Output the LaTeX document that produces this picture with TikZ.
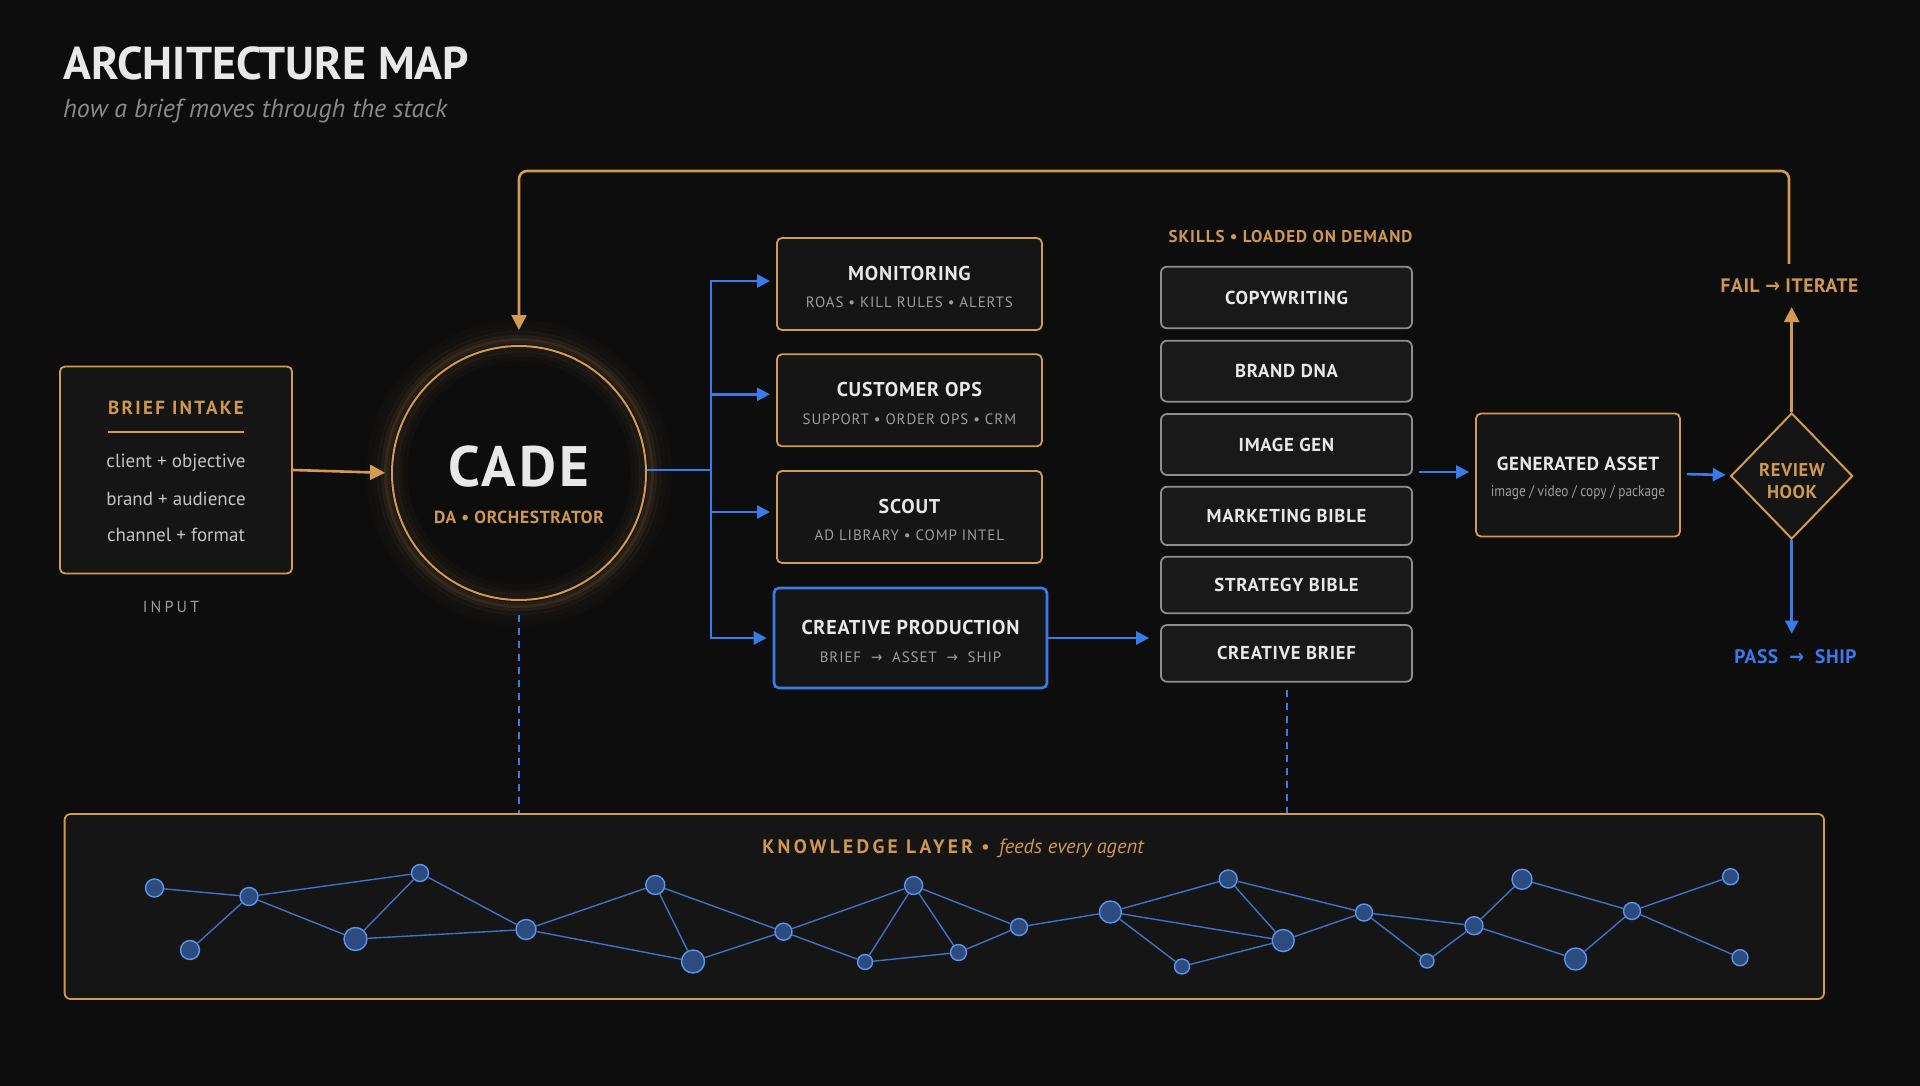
\documentclass[tikz,border=0pt]{standalone}
\usepackage{fontspec}
\setmainfont{PT Sans}
\newfontfamily\condfont{PT Sans}[FakeStretch=0.86]
\newfontfamily\arrowfont{DejaVu Sans}[FakeStretch=0.9]
\usetikzlibrary{arrows.meta,shapes.geometric,calc}
\definecolor{bg}{HTML}{0D0D0E}
\definecolor{gold}{HTML}{D39A52}
\definecolor{goldtext}{HTML}{CF9852}
\definecolor{blu}{HTML}{3A7BEA}
\definecolor{boxfill}{HTML}{151515}
\definecolor{skillfill}{HTML}{191919}
\definecolor{skillgray}{HTML}{8E8E8E}
\definecolor{wtext}{HTML}{E8E8E8}
\definecolor{gtext}{HTML}{9C9C9C}
\definecolor{ltext}{HTML}{C4C4C4}
\definecolor{subgray}{HTML}{8A8A8A}
\definecolor{kfill}{HTML}{2C4B7E}
\definecolor{kdraw}{HTML}{5C95EA}
\definecolor{kedgecol}{HTML}{3F72C6}
\newcommand\setfs[1]{\fontsize{#1}{#1}\selectfont}
\newcommand\myarrow{{\arrowfont →}}
\begin{document}
\begin{tikzpicture}[x=1pt,y=-1pt,
  txt/.style={inner sep=0pt, anchor=center},
  agent/.style={draw=gold, line width=1.8pt, rounded corners=5pt, fill=boxfill, minimum width=265pt, minimum height=92pt, inner sep=0pt},
  skill/.style={draw=skillgray, line width=1.8pt, rounded corners=6pt, fill=skillfill, minimum width=251pt, inner sep=0pt},
  hdr/.style={txt, text=wtext, font=\setfs{20}\bfseries\addfontfeature{LetterSpace=4}},
  subt/.style={txt, text=gtext, font=\setfs{15}\addfontfeature{LetterSpace=6}},
  skilltxt/.style={txt, text=wtext, font=\setfs{18.7}\bfseries\addfontfeature{LetterSpace=4}},
  goldline/.style={draw=gold, line width=2.6pt},
  goldarrow/.style={goldline, -{Triangle[length=15pt,width=15pt]}},
  blueline/.style={draw=blu, line width=2.6pt},
  bluearrow/.style={blueline, -{Triangle[length=13pt,width=13pt]}},
  dashblue/.style={draw=blu, line width=2pt, dash pattern=on 7pt off 6pt},
  knode/.style={circle, fill=kfill, draw=kdraw, line width=1.4pt, inner sep=0pt},
  kedge/.style={draw=kedgecol, line width=1.4pt}
]
\useasboundingbox (0,0) rectangle (1920,1086);
\fill[bg] (0,0) rectangle (1920,1086);

% title
\node[inner sep=0pt, anchor=base west, text=wtext, font=\setfs{46}\bfseries] (title) at (63,80) {ARCHITECTURE MAP};
\node[inner sep=0pt, anchor=base west, text=subgray, font=\setfs{26}\itshape] (subtitle) at (63,118) {how a brief moves through the stack};

% brief intake
\node[draw=gold, line width=1.8pt, rounded corners=5pt, fill=boxfill, minimum width=232pt, minimum height=207pt, inner sep=0pt] (brief) at (176,470) {};
\node[txt, text=goldtext, font=\setfs{19}\bfseries\addfontfeature{LetterSpace=12}] (briefhdr) at (176,408) {BRIEF INTAKE};
\coordinate (ulL) at (108,432);
\coordinate (ulR) at (244,432);
\draw[draw=gold, line width=1.5pt] (ulL) -- (ulR);
\node[txt, text=ltext, font=\setfs{19}] (b1) at (176,463) {client + objective};
\node[txt, text=ltext, font=\setfs{19}] (b2) at (176,499) {brand + audience};
\node[txt, text=ltext, font=\setfs{19}] (b3) at (176,535) {channel + format};
\node[txt, text=gtext, font=\setfs{16}\addfontfeature{LetterSpace=20}] (input) at (171,607) {INPUT};

% CADE glow + circle
\foreach \r/\o in {150/0.025,144/0.04,139/0.06,135/0.09,132/0.13} {
  \draw[gold, opacity=\o, line width=6pt] (519,473) circle[radius=\r pt];
}
\foreach \r/\o in {114/0.03,119/0.05,123/0.08} {
  \draw[gold, opacity=\o, line width=5pt] (519,473) circle[radius=\r pt];
}
\node[circle, draw=gold, line width=2pt, minimum size=254pt, inner sep=0pt] (cade) at (519,473) {};
\node[txt, text=wtext, font=\setfs{57}\bfseries\addfontfeature{LetterSpace=6}] (cadetxt) at (519,467) {CADE};
\node[txt, text=goldtext, font=\setfs{17.5}\bfseries\addfontfeature{LetterSpace=4}] (cadesub) at (519,517) {DA • ORCHESTRATOR};

% agent boxes
\node[agent] (mon) at (909.4,284) {};
\node[hdr] (monh) at (909.4,273) {MONITORING};
\node[subt] (mons) at (909.4,302) {ROAS • KILL RULES • ALERTS};
\node[agent] (cops) at (909.4,400.3) {};
\node[hdr] (copsh) at (909.4,389) {CUSTOMER OPS};
\node[subt] (copss) at (909.4,419) {SUPPORT • ORDER OPS • CRM};
\node[agent] (scout) at (909.4,517) {};
\node[hdr] (scouth) at (909.4,506) {SCOUT};
\node[subt] (scouts) at (909.4,535) {AD LIBRARY • COMP INTEL};
\node[agent, draw=blu, line width=2.6pt, minimum width=273pt, minimum height=100pt] (crea) at (910.5,638) {};
\node[hdr] (creah) at (910.5,627) {CREATIVE PRODUCTION};
\node[subt] (creas) at (910.5,657) {BRIEF \ \myarrow\ \ ASSET \ \myarrow\ \ SHIP};

% skills
\node[txt, text=goldtext, font=\setfs{17}\bfseries\addfontfeature{LetterSpace=6}] (skillslbl) at (1290.5,237) {SKILLS • LOADED ON DEMAND};
\node[skill, minimum height=61.6pt] (copyw) at (1286.5,297.5) {};
\node[skilltxt] (copywt) at (copyw) {COPYWRITING};
\node[skill, minimum height=61pt] (brand) at (1286.5,371.2) {};
\node[skilltxt] (brandt) at (brand) {BRAND DNA};
\node[skill, minimum height=61pt] (imggen) at (1286.5,444.5) {};
\node[skilltxt] (imggent) at (imggen) {IMAGE GEN};
\node[skill, minimum height=58.3pt] (mkt) at (1286.5,515.9) {};
\node[skilltxt] (mktt) at (mkt) {MARKETING BIBLE};
\node[skill, minimum height=56.6pt] (strat) at (1286.5,585) {};
\node[skilltxt] (stratt) at (strat) {STRATEGY BIBLE};
\node[skill, minimum height=56.7pt] (cbrief) at (1286.5,653.4) {};
\node[skilltxt] (cbrieft) at (cbrief) {CREATIVE BRIEF};

% generated asset
\node[draw=gold, line width=1.8pt, rounded corners=5pt, fill=boxfill, minimum width=204pt, minimum height=123pt, inner sep=0pt] (asset) at (1578,475) {};
\node[txt, text=wtext, font=\setfs{19}\bfseries\addfontfeature{LetterSpace=3}] (asseth) at (1578,464) {GENERATED ASSET};
\node[txt, text=gtext, font=\condfont\setfs{15.5}] (assets) at (1578,493) {image / video / copy / package};

% review hook
\node[diamond, draw=gold, line width=2pt, fill=boxfill, minimum width=122pt, minimum height=126pt, inner sep=0pt] (review) at (1791.7,476) {};
\node[txt, text=goldtext, font=\setfs{18.5}\bfseries\addfontfeature{LetterSpace=3}] (rev1) at (1792,470) {REVIEW};
\node[txt, text=goldtext, font=\setfs{18.5}\bfseries\addfontfeature{LetterSpace=3}] (rev2) at (1792,492) {HOOK};
\node[txt, text=goldtext, font=\setfs{19.5}\bfseries\addfontfeature{LetterSpace=3}] (fail) at (1789.5,286) {FAIL \myarrow\ ITERATE};
\node[txt, text=blu, font=\setfs{19.5}\bfseries\addfontfeature{LetterSpace=3}] (pass) at (1795.5,657) {PASS \ \myarrow\ \ SHIP};

% knowledge layer
\node[draw=gold, line width=1.8pt, rounded corners=6pt, fill=boxfill, minimum width=1759.4pt, minimum height=185pt, inner sep=0pt] (kl) at (944.3,906.5) {};
\node[txt, text=goldtext] (kltitle) at (953,848) {{\setfs{19.5}\bfseries\addfontfeature{LetterSpace=17}KNOWLEDGE LAYER}\hspace{8pt}{\setfs{19.5}•}\hspace{9pt}{\setfs{20.5}\itshape feeds every agent}};

\foreach \n/\x/\y/\r in {1/154.5/888/9, 2/190/950/9.5, 3/249/896.5/9, 4/355.5/939/11.5, 5/420/873/8.5,
  6/526/929.5/10, 7/655.3/885/9.5, 8/693/961.5/11.5, 9/783.5/931.7/8.5, 10/865/962/7.5, 11/913.6/885.5/9,
  12/958.5/952.5/8, 13/1019/927/8.5, 14/1110.4/912/11, 15/1182/966.5/7.5, 16/1228.2/879/9, 17/1283.2/940.5/11,
  18/1364/912.5/8.5, 19/1427/961/7, 20/1474/925.7/9, 21/1522/879.3/10, 22/1575.6/959/11, 23/1632/911/8.5,
  24/1730.5/876.7/8, 25/1740/957.7/8} {
  \node[knode, minimum size=2*\r pt] (k\n) at (\x,\y) {};
}
\foreach \a/\b in {1/3, 3/2, 3/5, 3/4, 5/4, 5/6, 4/6, 6/7, 6/8, 7/8, 7/9, 8/9, 9/11, 9/10, 11/10, 11/12, 11/13, 10/12,
  12/13, 13/14, 14/16, 14/17, 14/15, 15/17, 16/17, 16/18, 17/18, 18/20, 18/19, 19/20, 20/21, 20/22, 21/23, 22/23, 23/24, 23/25} {
  \draw[kedge] (k\a) -- (k\b);
}

% connectors
\draw[goldarrow, shorten >=6pt] (brief.east) -- (cade.west);
\coordinate (cadeout) at ($(cade.east)+(0,-3)$);
\coordinate (trunk) at (711,470);
\draw[blueline] (cadeout) -- (trunk);
\draw[bluearrow, shorten >=6pt] (trunk) |- ($(mon.west)+(0,-3)$);
\draw[bluearrow, shorten >=6pt] (trunk) |- ($(cops.west)+(0,-6)$);
\draw[bluearrow, shorten >=6pt] (trunk) |- ($(scout.west)+(0,-5)$);
\draw[bluearrow, shorten >=6pt] (trunk) |- (crea.west);
\draw[bluearrow, shorten >=11pt] (crea.east) -- (cbrief.west |- crea.east);
\draw[bluearrow, shorten >=6pt] ($(imggen.east |- asset.west)+(6,-3)$) -- ($(asset.west)+(0,-3)$);
\draw[bluearrow, shorten <=6pt, shorten >=4pt] ($(asset.east)+(0,-1)$) -- ($(review.west)+(0,-1)$);
\draw[goldarrow, shorten >=14pt] (review.north) -- (review.north |- fail.south);
\draw[bluearrow, shorten >=16pt] (review.south) -- (review.south |- pass.north);
\coordinate (loopstart) at (1789,264);
\coordinate (looptop) at (519,171);
\draw[goldarrow, rounded corners=8pt, shorten >=15pt] (loopstart) |- (looptop) -- (cade.north);
\draw[dashblue, shorten <=14pt] (cade.south) -- (cade.south |- kl.north);
\draw[dashblue, shorten <=7pt] (cbrief.south) -- (cbrief.south |- kl.north);
\end{tikzpicture}
\end{document}
